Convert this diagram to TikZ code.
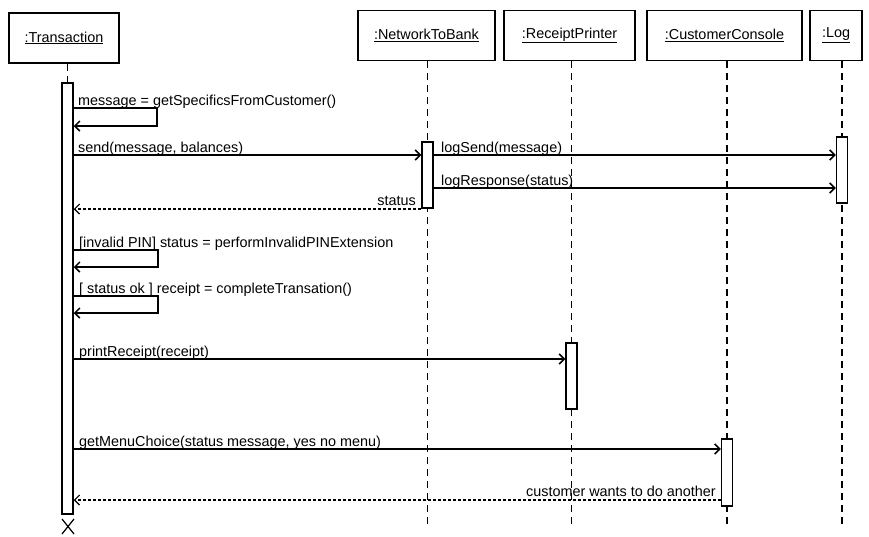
\documentclass[tikz,border=0pt]{standalone}
\usepackage{fontspec}
\setmainfont{Liberation Sans}
\usetikzlibrary{arrows.meta}

\def\lifeend{525}

\tikzset{
  obj/.style={draw, line width=1.5pt, minimum height=50pt, inner sep=0pt},
  actbar/.style={draw, fill=white, line width=1.5pt, minimum width=11pt, inner sep=0pt},
  life/.style={line width=1.5pt, dash pattern=on 7pt off 5pt},
  msg/.style={line width=1.5pt, -{Straight Barb[length=5pt,width=10pt]}},
  ret/.style={line width=1.1pt, dash pattern=on 3pt off 2pt, -{Straight Barb[length=5pt,width=10pt]}},
  lbl/.style={anchor=base west, inner sep=0pt},
}

\begin{document}
\begin{tikzpicture}[x=1pt, y=-1pt, font=\fontsize{14.4}{16}\selectfont]
    \useasboundingbox (0,0) rectangle (869,536);

    % the objects
    \node[obj, minimum width=110pt] (tx) at (64,38) {\underline{:Transaction}};
    \node[obj, minimum width=137pt] (ntb) at (426.5,35.5) {\underline{:NetworkToBank}};
    \node[obj, minimum width=131pt] (rp) at (569.5,35.5) {\underline{:ReceiptPrinter}};
    \node[obj, minimum width=155pt] (cc) at (724.5,35.5) {\underline{:CustomerConsole}};
    \node[obj, minimum width=52pt] (log) at (836,35.5) {\underline{:Log}};

    % lifelines
    \coordinate (ntbl) at (427.5,\lifeend);
    \coordinate (rpl) at (571.5,\lifeend);
    \coordinate (ccl) at (727,\lifeend);
    \coordinate (logl) at (842,\lifeend);
    \draw[life] (ntb.south -| ntbl) -- (ntbl);
    \draw[life] (rp.south -| rpl) -- (rpl);
    \draw[life] (cc.south -| ccl) -- (ccl);
    \draw[life] (log.south -| logl) -- (logl);

    % activations
    \node[actbar, minimum height=431pt] (txbar) at (67.5,298.5) {};
    \node[actbar, minimum height=66pt] (ntbbar) at (427.5,175) {};
    \node[actbar, minimum height=66pt] (logbar) at (842,170) {};
    \node[actbar, minimum height=66pt] (rpbar) at (571.5,376) {};
    \node[actbar, minimum height=67pt] (ccbar) at (727,472.5) {};
    \draw[life] (tx.south -| txbar) -- (txbar.north);

    % messages
    \draw[msg] (txbar.east |- 0,108) -- (157,108) -- (157,126) -- (txbar.east |- 0,126);
    \node[lbl] (l1) at (78,105) {message = getSpecificsFromCustomer()};

    \draw[msg] (txbar.east |- 0,155) -- (ntbbar.west |- 0,155);
    \node[lbl] (l2) at (78,152) {send(message, balances)};

    \draw[msg] (ntbbar.east |- 0,155) -- (logbar.west |- 0,155);
    \node[lbl] (l3) at (441,152) {logSend(message)};

    \draw[msg] (ntbbar.east |- 0,188) -- (logbar.west |- 0,188);
    \node[lbl] (l4) at (441,185) {logResponse(status)};

    \draw[ret] (ntbbar.west |- 0,209) -- (txbar.east |- 0,209);
    \node[lbl, anchor=base east] (l5) at (416,205) {status};

    \draw[msg] (txbar.east |- 0,250) -- (158,250) -- (158,267) -- (txbar.east |- 0,267);
    \node[lbl] (l6) at (79,247) {[invalid PIN] status = performInvalidPINExtension};

    \draw[msg] (txbar.east |- 0,296) -- (158,296) -- (158,313) -- (txbar.east |- 0,313);
    \node[lbl] (l7) at (79,293) {[ status ok ] receipt = completeTransation()};

    \draw[msg] (txbar.east |- 0,359) -- (rpbar.west |- 0,359);
    \node[lbl] (l8) at (79,356) {printReceipt(receipt)};

    \draw[msg] (txbar.east |- 0,449) -- (ccbar.west |- 0,449);
    \node[lbl] (l9) at (79,446) {getMenuChoice(status message, yes no menu)};

    \draw[ret] (ccbar.west |- 0,500) -- (txbar.east |- 0,500);
    \node[lbl, anchor=base east] (l10) at (716,496) {customer wants to do another};

    % end of the transaction
    \draw[line width=1.2pt] (62,519) -- (74,534) (74,519) -- (62,534);

\end{tikzpicture}
\end{document}
